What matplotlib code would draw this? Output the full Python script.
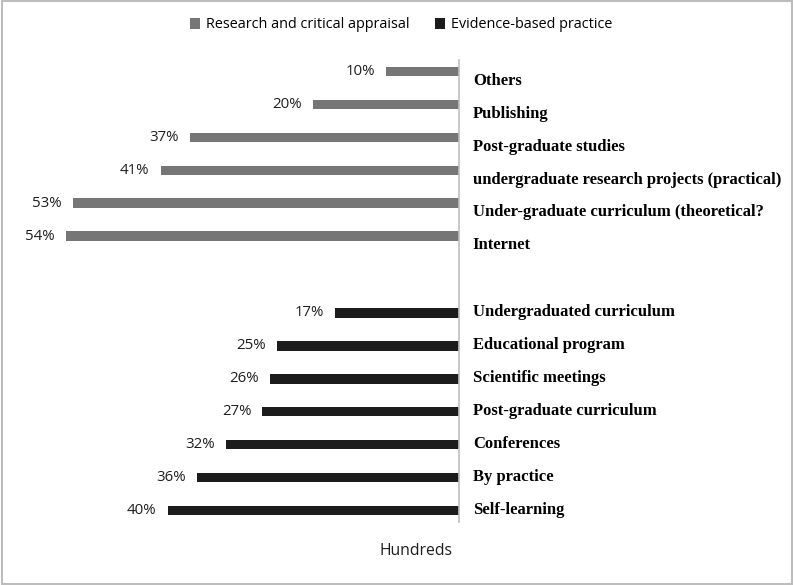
import matplotlib
matplotlib.use("Agg")
import matplotlib.pyplot as plt
from matplotlib.patches import Rectangle
import numpy as np

# data
research_labels = ["Others", "Publishing", "Post-graduate studies",
                   "undergraduate research projects (practical)",
                   "Under-graduate curriculum (theoretical?",
                   "Internet"]
research_vals = [10, 20, 37, 41, 53, 54]

practice_labels = ["Undergraduated curriculum", "Educational program",
                   "Scientific meetings", "Post-graduate curriculum",
                   "Conferences", "By practice", "Self-learning"]
practice_vals = [17, 25, 26, 27, 32, 36, 40]

legend_names = ["Research and critical appraisal", "Evidence-based practice"]
colors = ["#767676", "#1c1c1c"]

# layout
W, H = 794, 585
fig = plt.figure(figsize=(W / 100, H / 100), dpi=100)
ax = fig.add_axes([20 / W, 1 - 522 / H, (459 - 20) / W, (522 - 60) / H])

gap = 2.33
y_top = np.arange(len(research_vals))
y_bot = np.arange(len(practice_vals)) + y_top[-1] + gap

bar_h = 0.29
ax.barh(y_top, research_vals, height=bar_h, color=colors[0], label=legend_names[0])
ax.barh(y_bot, practice_vals, height=bar_h, color=colors[1], label=legend_names[1])

for y, v in list(zip(y_top, research_vals)) + list(zip(y_bot, practice_vals)):
    ax.annotate(f"{v}%", (v, y), xytext=(-8, 0), textcoords="offset points",
                ha="right", va="center", fontsize=10.8, family="Open Sans",
                color="#1e1e1e")

ax.set_xlim(60.3, 0)
ax.set_ylim(y_bot[-1] + 0.35, -0.35)

# category labels sit a bit off the bars (clustered-bar slots)
ax.yaxis.tick_right()
ax.set_yticks(np.concatenate([y_top + 0.22, y_bot - 0.09]))
ax.set_yticklabels(research_labels + practice_labels, family="Liberation Serif",
                   fontweight="bold", fontsize=12)
ax.tick_params(axis="y", length=0, pad=10)
ax.set_xticks([])

for s in ["top", "left", "bottom"]:
    ax.spines[s].set_visible(False)
ax.spines["right"].set_color("#bfbfbf")
ax.spines["right"].set_linewidth(1.2)

fig.legend(loc="center", bbox_to_anchor=(0.505, 1 - 25 / H), ncol=2, frameon=False,
           prop={"family": "Open Sans", "size": 10.4}, handlelength=0.7,
           handleheight=0.7, handletextpad=0.4, columnspacing=1.8)

fig.text(416 / W, 1 - 551 / H, "Hundreds", ha="center", va="center",
         fontsize=11.3, family="Open Sans", color="#1e1e1e")

fig.patches.append(Rectangle((0.002, 0.002), 0.996, 0.996, transform=fig.transFigure,
                             fill=False, edgecolor="#bdbdbd", linewidth=1.5))

fig.savefig("out.png", dpi=100)
